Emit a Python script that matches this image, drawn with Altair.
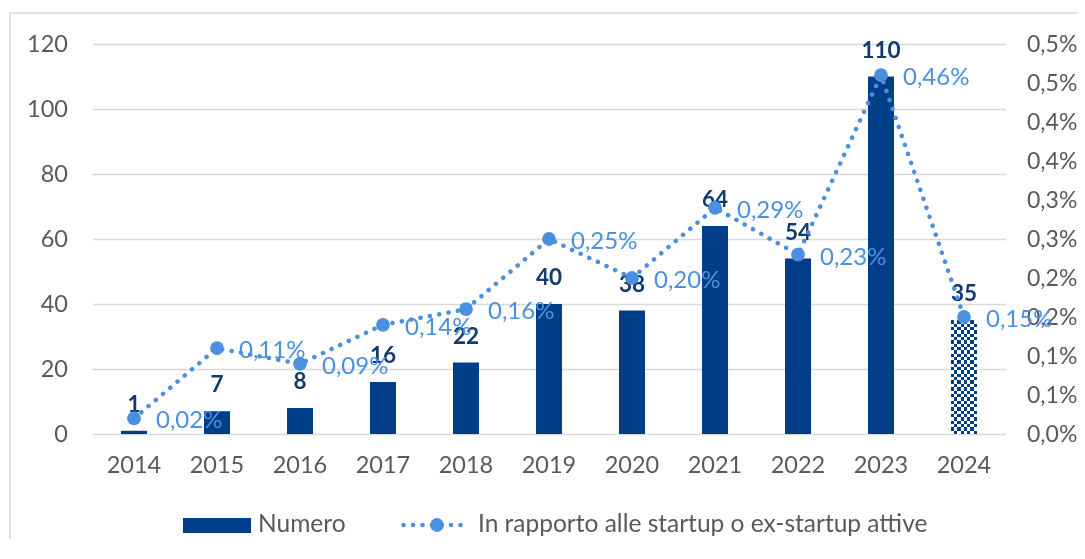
import altair as alt
import pandas as pd

years = ["2014", "2015", "2016", "2017", "2018", "2019", "2020", "2021", "2022", "2023", "2024"]
numero = [1, 7, 8, 16, 22, 40, 38, 64, 54, 110, 35]
quota = [0.02, 0.11, 0.09, 0.14, 0.16, 0.25, 0.20, 0.29, 0.23, 0.46, 0.15]
provvisorio = ["2024"]
left_ticks = [0, 20, 40, 60, 80, 100, 120]
right_ticks = [0.0, 0.05, 0.10, 0.15, 0.20, 0.25, 0.30, 0.35, 0.40, 0.45, 0.50]
legend_labels = ["Numero", "In rapporto alle startup o ex-startup attive"]

BAR = "#003F87"
BARTXT = "#123A6E"
LINE = "#4A90E0"
GRAY = "#595959"
FONT = "Lato"

df = pd.DataFrame({
    "anno": years,
    "numero": numero,
    "quota": quota,
    "qlabel": [f"{v:.2f}".replace(".", ",") + "%" for v in quota],
})


def stripes(n, vertical):
    stops = []
    for i in range(n):
        c = "#ffffff" if i % 2 == 0 else "#000000"
        stops.append({"offset": i / n, "color": c})
        stops.append({"offset": (i + 1) / n, "color": c})
    g = {"gradient": "linear", "stops": stops, "x1": 0, "y1": 0}
    if vertical:
        g.update({"x2": 1, "y2": 0})
    else:
        g.update({"x2": 0, "y2": 1})
    return g


base = alt.Chart(df)
xenc = alt.X("anno:N", sort=years,
             scale=alt.Scale(paddingInner=0.4, paddingOuter=0.2),
             axis=alt.Axis(title=None, labelAngle=0, domain=False, ticks=False,
                           labelPadding=19, labelFontSize=23.5, labelColor=GRAY,
                           labelBaseline="top"))
yleft = alt.Y("numero:Q",
              scale=alt.Scale(domain=[0, 120], nice=False),
              axis=alt.Axis(title=None, values=left_ticks, domain=False, ticks=False,
                            labelPadding=25, labelFontSize=23.5, labelColor=GRAY,
                            grid=True, gridColor="#D9D9D9", gridWidth=1.5))

is_prov = alt.FieldOneOfPredicate(field="anno", oneOf=provvisorio)

bars = base.mark_bar(size=26, color=BAR).encode(x=xenc, y=yleft).transform_filter(
    ~is_prov)
prov1 = base.mark_bar(size=26, fill=stripes(34, False)).encode(x=xenc, y=yleft).transform_filter(is_prov)
prov2 = base.mark_bar(size=26, fill=stripes(8, True), blend="difference").encode(
    x=xenc, y=yleft).transform_filter(is_prov)
prov3 = base.mark_bar(size=26, fill=BAR, blend="lighten").encode(
    x=xenc, y=yleft).transform_filter(is_prov)
barlabels = base.mark_text(font=FONT, fontSize=22.5, fontWeight="bold", color=BARTXT,
                           baseline="alphabetic", dy=-19).encode(
    x=xenc, y=yleft, text="numero:Q")

left_group = alt.layer(bars, prov1, prov2, prov3, barlabels)

yright = alt.Y("quota:Q",
               scale=alt.Scale(domain=[0, 0.5], nice=False, zero=True),
               axis=alt.Axis(title=None, orient="right", values=right_ticks,
                             domain=False, ticks=False, grid=False,
                             labelOverlap=False, labelBound=False, labelFlush=False,
                             labelPadding=21, labelFontSize=23, labelColor=GRAY,
                             labelExpr="replace(format(floor(datum.value*10+0.5+1e-6)/10, '.1f'), '.', ',') + '%'"))

line = base.mark_line(color=LINE, strokeWidth=4.5, strokeDash=[0.1, 9.4],
                      strokeCap="round").encode(x=xenc, y=yright)
pts = base.mark_point(filled=True, size=190, shape="circle", color=LINE, opacity=1).encode(
    x=xenc, y=yright)
pctlabels = base.mark_text(font=FONT, fontSize=24, color=LINE, align="left",
                           baseline="alphabetic", dx=22, dy=10).encode(
    x=xenc, y=yright, text="qlabel:N")

right_group = alt.layer(line, pts, pctlabels)

# legend and frame decorations
leg = alt.Chart(pd.DataFrame({"t": legend_labels}))
frame = leg.transform_filter(alt.datum.t == legend_labels[0]).mark_rect(
    fill="transparent", stroke="#D9D9D9", strokeWidth=1.5).encode(
    x=alt.value(-82.5), x2=alt.value(1200), y=alt.value(-31), y2=alt.value(700))
sw = leg.transform_filter(alt.datum.t == legend_labels[0]).mark_rect(color=BAR).encode(
    x=alt.value(90.5), x2=alt.value(158.5), y=alt.value(474), y2=alt.value(489))
t1 = leg.transform_filter(alt.datum.t == legend_labels[0]).mark_text(
    font=FONT, fontSize=24.5, color=GRAY, align="left", baseline="middle").encode(
    x=alt.value(165.5), y=alt.value(481), text="t:N")
lrule = leg.transform_filter(alt.datum.t == legend_labels[1]).mark_rule(
    color=LINE, strokeWidth=4.5, strokeDash=[0.1, 9.4], strokeCap="round").encode(
    x=alt.value(311), x2=alt.value(376), y=alt.value(481))
lpt = leg.transform_filter(alt.datum.t == legend_labels[1]).mark_point(
    filled=True, size=190, shape="circle", color=LINE, opacity=1).encode(
    x=alt.value(344.5), y=alt.value(481))
t2 = leg.transform_filter(alt.datum.t == legend_labels[1]).mark_text(
    font=FONT, fontSize=24.5, color=GRAY, align="left", baseline="middle").encode(
    x=alt.value(385.5), y=alt.value(481), text="t:N")

chart = alt.layer(frame, left_group, right_group, sw, t1, lrule, lpt, t2).resolve_scale(
    y="independent"
).properties(
    width=913, height=390,
    autosize=alt.AutoSizeParams(type="none"),
    padding={"left": 84.5, "top": 36, "right": 71.5, "bottom": 105},
    background="white",
).configure(font=FONT).configure_view(strokeWidth=0)

chart.save("out.html", embed_options={"renderer": "svg", "actions": False})
